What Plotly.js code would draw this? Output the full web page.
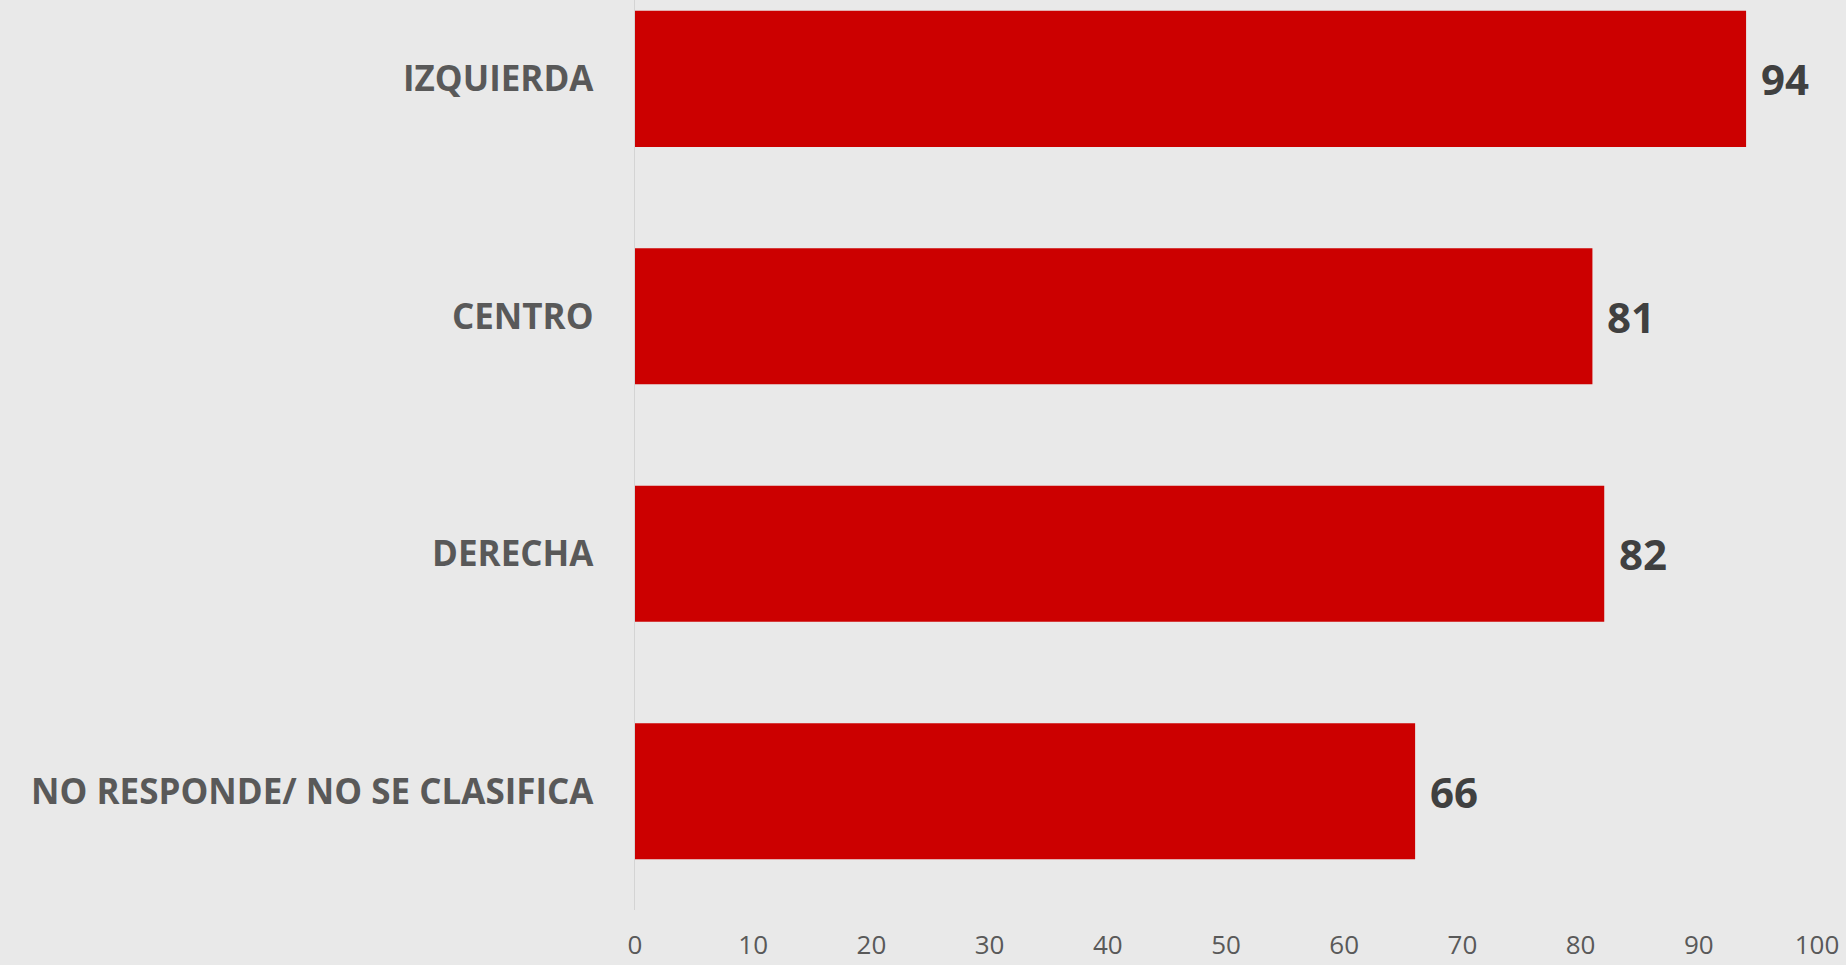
<!DOCTYPE html>
<html>
<head>
<meta charset="utf-8">
<script src="https://cdn.plot.ly/plotly-3.0.1.min.js"></script>
<style>
html,body{margin:0;padding:0;background:#e9e9e9;}
#chart{width:1846px;height:965px;}
</style>
</head>
<body>
<div id="chart"></div>
<script>
const categories = ["IZQUIERDA", "CENTRO", "DERECHA", "NO RESPONDE/ NO SE CLASIFICA"];
const values = [94, 81, 82, 66];
const xTicks = [0, 10, 20, 30, 40, 50, 60, 70, 80, 90, 100];

const trace = {
  type: 'bar',
  orientation: 'h',
  x: values,
  y: categories,
  marker: {color: '#cc0000', line: {width: 0}},
  width: 0.573,
  hoverinfo: 'skip'
};

const annotations = categories.map((c, i) => ({
  x: values[i], y: c, xref: 'x', yref: 'y',
  text: String(values[i]),
  showarrow: false, xanchor: 'left', yanchor: 'middle',
  xshift: 13,
  font: {family: 'Open Sans, sans-serif', size: 42, color: '#404040', weight: 'bold'}
}));

const layout = {
  width: 1846, height: 965,
  margin: {l: 635, r: 29, t: 0, b: 55, pad: 0},
  paper_bgcolor: '#e9e9e9',
  plot_bgcolor: 'rgba(0,0,0,0)',
  showlegend: false,
  bargap: 0.427,
  xaxis: {
    range: [0, 100],
    tickvals: xTicks,
    ticktext: xTicks.map(String),
    showgrid: false, zeroline: false, showline: false,
    ticks: '', ticklabelstandoff: 17,
    tickfont: {family: 'Open Sans, sans-serif', size: 26, color: '#595959'}
  },
  yaxis: {
    type: 'category',
    categoryorder: 'array', categoryarray: categories,
    range: [3.5, -0.332],
    showgrid: false, zeroline: false,
    showline: true, linecolor: '#d4d4d4', linewidth: 1.5,
    ticks: '', ticklabelstandoff: 33,
    tickfont: {family: 'Open Sans, sans-serif', size: 35, color: '#595959', weight: 'bold'}
  },
  annotations: annotations
};

Plotly.newPlot('chart', [trace], layout, {displayModeBar: false, staticPlot: true});
</script>
</body>
</html>
